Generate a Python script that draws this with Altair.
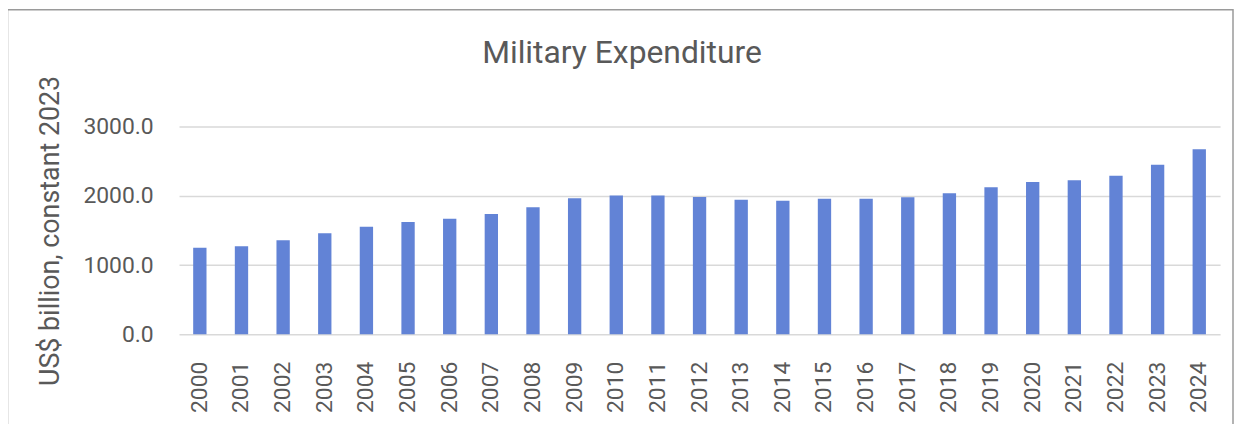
import altair as alt
import pandas as pd

years = [str(y) for y in range(2000, 2025)]
values = [1248, 1271, 1357, 1458, 1554, 1621, 1669, 1736, 1836, 1966,
          2003, 2003, 1984, 1941, 1927, 1956, 1956, 1980, 2037, 2123,
          2200, 2224, 2290, 2448, 2673]

df = pd.DataFrame({"year": years, "value": values})

FONT = "Roboto"
TEXT = "#595959"

bars = alt.Chart(df).mark_bar(color="#6283D6").encode(
    x=alt.X("year:N", sort=None,
            scale=alt.Scale(paddingInner=0.68, paddingOuter=0.34),
            axis=alt.Axis(title=None, labelAngle=270, labelPadding=27,
                          ticks=False, domain=False, labelFontSize=23,
                          labelColor=TEXT, labelFont=FONT)),
    y=alt.Y("value:Q",
            scale=alt.Scale(domain=[0, 3000], nice=False),
            axis=alt.Axis(values=[0, 1000, 2000, 3000], format=".1f",
                          title="US$ billion, constant 2023",
                          titleFont=FONT, titleFontSize=27, titleFontWeight="normal",
                          titleColor=TEXT, titleAngle=270, titleX=-129, titleY=104.5,
                          titleAlign="center", titleBaseline="middle",
                          labelFontSize=23, labelColor=TEXT, labelFont=FONT,
                          labelPadding=26, ticks=False, domain=False,
                          grid=True, gridColor="#D9D9D9", gridWidth=1.5)),
)

border = alt.Chart(pd.DataFrame({"a": [0]})).mark_rect(
    fill=None, stroke="#9A9A9A", strokeWidth=1.5
).encode(
    x=alt.value(-172.5), x2=alt.value(1060),
    y=alt.value(-117.5), y2=alt.value(320),
)

chart = alt.layer(border, bars).properties(
    width=1047, height=209,
    title=alt.TitleParams("Military Expenditure", font=FONT, fontSize=32,
                          fontWeight="normal", color=TEXT, anchor="middle",
                          frame="group", dx=-78, offset=-86, baseline="alphabetic"),
    autosize=alt.AutoSizeParams(type="none"),
    padding={"left": 172, "top": 118, "right": 14, "bottom": 89},
).configure_view(stroke=None)

chart.save("out.html", embed_options={"renderer": "svg", "actions": False})
